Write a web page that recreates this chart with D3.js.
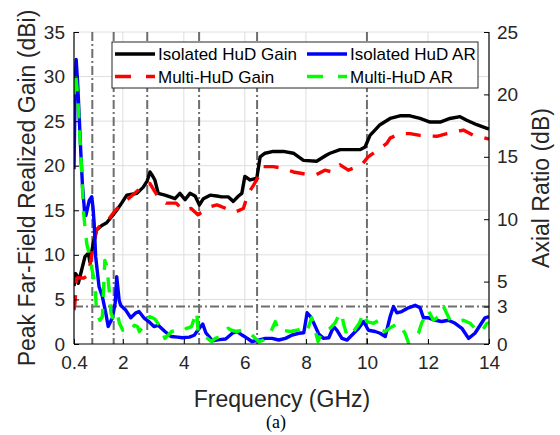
<!DOCTYPE html>
<html><head><meta charset="utf-8">
<script src="https://cdn.jsdelivr.net/npm/d3@7"></script>
<style>body{margin:0;background:#fff}svg{display:block}</style>
</head><body>
<svg id="c" width="560" height="435"></svg>
<script>
// ---- data ----
const xTicks = [0.4, 2, 4, 6, 8, 10, 12, 14];
const xGrid = [2, 4, 6, 8, 10, 12];
const gainTicks = [0, 5, 10, 15, 20, 25, 30, 35];
const arTicks = [0, 3, 5, 10, 15, 20, 25];
const markerFreqs = [1.0, 1.7, 2.8, 4.5, 6.4, 10];
const arThreshold = 3;

const isoGainF = [0.40,0.45,0.49,0.54,0.60,0.65,0.76,0.87,0.92,1.03,1.14,1.31,1.47,1.64,1.80,1.96,2.13,2.30,2.46,2.67,2.80,2.89,2.95,3.05,3.16,3.38,3.55,3.71,3.87,4.04,4.20,4.37,4.51,4.64,4.86,5.08,5.24,5.46,5.62,5.79,5.90,6.00,6.17,6.39,6.50,6.66,6.93,7.26,7.59,7.92,8.35,8.68,8.79,9.12,9.45,9.77,9.94,10.10,10.43,10.76,11.08,11.41,11.74,12.07,12.40,12.72,13.05,13.27,13.60,13.93,14.0];
const isoGain  = [6.5,7.9,7.7,6.8,7.6,8.3,9.8,10.2,9.2,11.3,12.8,13.3,13.6,14.3,15.0,15.8,16.7,16.8,16.9,17.6,18.3,19.3,19.0,18.4,16.9,16.7,16.5,16.3,16.9,16.2,16.9,16.6,15.6,16.3,16.7,16.6,16.5,16.5,16.0,16.6,16.9,18.8,18.4,18.6,21.0,21.4,21.6,21.6,21.4,20.6,20.5,21.2,21.4,21.8,21.8,21.8,22.1,23.4,24.6,25.3,25.6,25.6,25.3,24.9,24.9,25.3,25.5,25.1,24.6,24.2,24.1];

const multiGainF = [0.40,0.43,0.49,0.60,0.72,0.87,0.97,1.14,1.31,1.47,1.69,1.96,2.18,2.52,2.74,2.89,3.05,3.22,3.42,3.75,3.97,4.24,4.46,4.86,5.08,5.24,5.68,5.95,6.11,6.28,6.50,6.61,6.93,7.26,7.59,7.92,8.35,8.62,8.86,9.12,9.39,9.83,10.04,10.65,10.76,11.08,11.41,11.74,12.29,12.62,13.16,13.49,14.0];
const multiGain  = [3.8,4.6,7.4,7.4,7.4,7.7,9.8,12.8,13.5,13.7,14.7,15.8,16.3,17.3,18.0,18.0,17.1,16.2,15.8,15.8,15.0,15.2,14.5,15.4,15.6,15.4,14.8,15.2,16.9,17.8,19.1,19.9,19.9,19.7,19.3,19.1,19.0,19.5,19.3,20.1,19.5,20.1,21.0,22.5,23.1,23.6,23.6,23.4,23.3,23.6,24.0,23.4,23.0];

const isoArF = [0.40,0.44,0.47,0.52,0.58,0.63,0.68,0.75,0.79,0.90,0.98,1.02,1.06,1.11,1.22,1.33,1.44,1.52,1.66,1.75,1.80,1.88,1.93,2.10,2.26,2.43,2.53,2.69,2.85,3.02,3.16,3.38,3.58,3.80,3.95,4.18,4.34,4.52,4.62,4.72,4.94,5.16,5.37,5.59,5.75,5.92,6.08,6.23,6.45,6.67,6.89,7.11,7.33,7.55,7.77,7.93,8.04,8.15,8.26,8.42,8.58,8.75,8.91,9.02,9.18,9.35,9.51,9.73,9.89,10.05,10.27,10.43,10.60,10.76,10.87,10.98,11.14,11.36,11.58,11.74,11.85,12.02,12.24,12.45,12.67,12.89,13.11,13.33,13.54,13.71,13.87,14.0];
const isoAr  = [14.0,21.0,22.8,20.9,17.7,15.0,12.6,10.5,10.3,11.5,11.8,11.0,9.7,7.0,4.6,3.8,2.5,1.4,2.1,3.3,5.4,3.5,3.1,2.7,2.1,2.5,2.6,2.1,1.8,1.4,1.5,1.0,0.6,0.55,0.5,0.55,0.7,1.3,1.6,0.9,0.25,0.35,0.4,0.86,1.0,0.7,0.45,0.2,0.3,0.45,0.45,0.32,0.45,0.72,0.86,0.9,2.5,2.2,1.66,0.8,0.45,0.5,1.4,1.1,0.45,0.32,0.72,1.26,1.8,1.1,1.0,0.86,0.6,2.2,3.0,2.5,2.6,2.9,3.1,2.9,2.1,2.1,1.9,1.8,1.9,1.66,1.26,0.45,0.86,1.5,2.1,2.2];

const multiArF = [0.40,0.45,0.50,0.55,0.60,0.66,0.70,0.75,0.82,0.88,0.97,1.04,1.10,1.14,1.25,1.33,1.41,1.48,1.56,1.61,1.72,1.83,1.89,2.00,2.11,2.21,2.38,2.48,2.54,2.70,2.88,3.05,3.26,3.38,3.60,3.76,3.93,4.09,4.25,4.42,4.47,4.75,4.90,5.03,5.20,5.45,5.56,5.73,5.89,6.06,6.23,6.45,6.61,6.78,7.00,7.11,7.26,7.48,7.70,7.92,8.03,8.19,8.40,8.52,8.79,8.95,9.06,9.17,9.23,9.34,9.45,9.56,9.75,9.89,10.00,10.22,10.38,10.49,10.60,10.76,11.03,11.25,11.36,11.69,11.79,12.01,12.18,12.34,12.51,12.72,12.94,13.16,13.38,13.60,13.76,13.93,14.0];
const multiAr  = [20.0,21.8,20.5,18.6,16.3,13.5,11.0,9.6,8.0,7.4,6.2,5.4,4.3,2.5,1.9,2.2,6.7,6.2,4.1,2.5,1.8,2.3,1.66,1.1,1.2,1.0,1.5,1.4,1.0,1.5,2.2,2.0,1.26,0.45,1.0,1.1,1.0,1.26,1.4,2.6,0.86,0.5,0.2,0.45,0.6,1.26,1.1,1.0,1.1,1.0,0.72,0.2,0.32,0.6,1.8,1.0,1.1,1.0,1.1,1.26,1.0,2.1,0.2,1.0,1.26,1.66,2.2,2.5,1.66,0.72,0.6,1.0,1.66,2.5,1.8,1.66,1.9,1.1,1.0,1.3,1.66,0.86,0.1,0.86,1.66,2.7,1.9,2.2,3.0,1.9,1.8,1.9,1.66,1.1,1.0,1.66,1.7];

const legendLabels = ["Isolated HuD Gain", "Isolated HuD AR", "Multi-HuD Gain", "Multi-HuD AR"];
const legendColors = ["#000000", "#0000ff", "#ff0000", "#00ff00"];

// ---- drawing ----
const svg = d3.select("#c");
const L = 74, R = 489, T = 32, B = 344;
const x = d3.scaleLinear().domain([0.4, 14]).range([L, R]);
const yL = d3.scaleLinear().domain([0, 35]).range([B, T]);
const yR = d3.scaleLinear().domain([0, 25]).range([B, T]);
const font = "'Liberation Sans', Arial, Helvetica, sans-serif";

svg.append("rect").attr("width", 560).attr("height", 435).attr("fill", "#fff");

// grid
const grid = svg.append("g").attr("stroke", "#dedede").attr("stroke-width", 1);
grid.selectAll("line.v").data(xGrid).join("line")
  .attr("x1", d => x(d)).attr("x2", d => x(d)).attr("y1", T).attr("y2", B);
grid.selectAll("line.h").data(gainTicks.filter(d => d > 0)).join("line")
  .attr("x1", L).attr("x2", R).attr("y1", d => yL(d)).attr("y2", d => yL(d));

// dash-dot reference lines
const ref = svg.append("g").attr("stroke", "#6e6e6e").attr("stroke-width", 2)
  .attr("stroke-dasharray", "9,3,2,3").attr("fill", "none");
ref.selectAll("line.m").data(markerFreqs).join("line")
  .attr("x1", d => x(d)).attr("x2", d => x(d)).attr("y1", T).attr("y2", B);
ref.append("line").attr("x1", L).attr("x2", R)
  .attr("y1", yR(arThreshold)).attr("y2", yR(arThreshold));

svg.append("clipPath").attr("id", "clip").append("rect")
  .attr("x", L).attr("y", T - 2).attr("width", R - L).attr("height", B - T + 2);

const plot = svg.append("g").attr("clip-path", "url(#clip)");
function series(fs, vs, yScale, color, dash) {
  const pts = fs.map((f, i) => [f, vs[i]]);
  const line = d3.line().x(d => x(d[0])).y(d => yScale(d[1]));
  const p = plot.append("path").datum(pts).attr("d", line)
    .attr("fill", "none").attr("stroke", color).attr("stroke-width", 3.4)
    .attr("stroke-linejoin", "round");
  if (dash) p.attr("stroke-dasharray", dash);
}
series(isoGainF, isoGain, yL, "#000000", null);
series(multiGainF, multiGain, yL, "#ff0000", "15,12");
series(isoArF, isoAr, yR, "#0000ff", null);
series(multiArF, multiAr, yR, "#00ff00", "15,12");

// axes
const axL = d3.axisLeft(yL).tickValues(gainTicks).tickSize(-5).tickPadding(9).tickFormat(d3.format("d"));
const axR = d3.axisRight(yR).tickValues(arTicks).tickSize(-5).tickPadding(8).tickFormat(d3.format("d"));
const axB = d3.axisBottom(x).tickValues(xTicks).tickSize(-5).tickPadding(12).tickFormat(d => d === 0.4 ? "0.4" : d3.format("d")(d));

function styleAxis(g) {
  g.select(".domain").attr("stroke", "#000").attr("stroke-width", 1.2);
  g.selectAll(".tick line").attr("stroke", "#000").attr("stroke-width", 1);
  g.selectAll(".tick text").attr("fill", "#262626").attr("font-size", 19).attr("font-family", font);
}
svg.append("g").attr("transform", `translate(${L},0)`).call(axL).call(styleAxis).call(g => g.select(".domain").attr("d", `M0,${T}V${B}`));
svg.append("g").attr("transform", `translate(${R},0)`).call(axR).call(styleAxis).call(g => g.select(".domain").attr("d", `M0,${T}V${B}`));
svg.append("g").attr("transform", `translate(0,${B})`).call(axB).call(styleAxis).call(g => g.select(".domain").attr("d", `M${L},0H${R}`));

// labels
svg.append("text").attr("transform", `translate(35,188) rotate(-90)`).attr("text-anchor", "middle")
  .attr("font-family", font).attr("font-size", 23).attr("fill", "#262626")
  .text("Peak Far-Field Realized Gain (dBi)");
svg.append("text").attr("transform", `translate(532,188) rotate(-90)`).attr("text-anchor", "middle")
  .attr("dominant-baseline", "hanging")
  .attr("font-family", font).attr("font-size", 23).attr("fill", "#262626")
  .text("Axial Ratio (dB)");
svg.append("text").attr("x", 282).attr("y", 407).attr("text-anchor", "middle")
  .attr("font-family", font).attr("font-size", 23).attr("fill", "#262626")
  .text("Frequency (GHz)");
svg.append("text").attr("x", 276).attr("y", 428).attr("text-anchor", "middle")
  .attr("font-family", "'Liberation Serif', 'Times New Roman', serif").attr("font-size", 18).attr("fill", "#000")
  .text("(a)");

// legend
const lg = svg.append("g");
lg.append("rect").attr("x", 112).attr("y", 42).attr("width", 366).attr("height", 46)
  .attr("fill", "#fff").attr("stroke", "#262626").attr("stroke-width", 1);
const cols = [115, 307];
const rows = [54, 76.5];
legendLabels.forEach((lab, i) => {
  const cx = cols[i % 2], cy = rows[Math.floor(i / 2)];
  const ln = lg.append("line").attr("x1", cx).attr("x2", cx + 40).attr("y1", cy).attr("y2", cy)
    .attr("stroke", legendColors[i]).attr("stroke-width", 3.4);
  if (i >= 2) ln.attr("stroke-dasharray", "16,15");
  lg.append("text").attr("x", cx + 43).attr("y", cy + 6).attr("font-family", font)
    .attr("font-size", 17).attr("fill", "#000").text(lab);
});
</script>
</body></html>
